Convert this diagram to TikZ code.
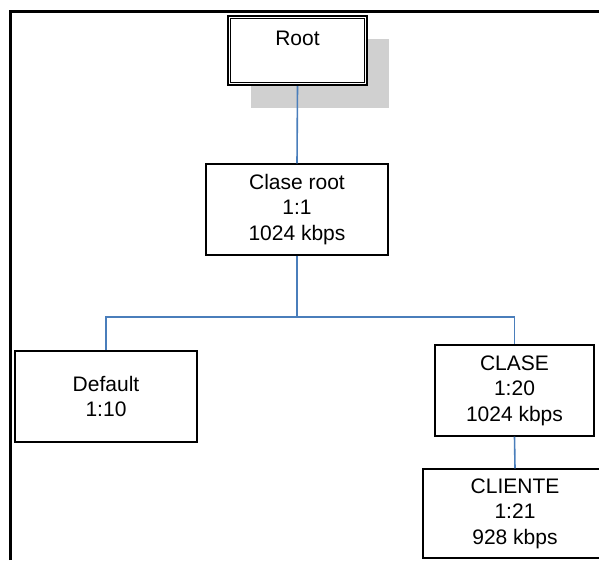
\documentclass[tikz,border=0pt]{standalone}
\usepackage{fontspec}
\setmainfont{Liberation Sans}
\definecolor{linkblue}{HTML}{4A7EBB}
\definecolor{shadowgray}{HTML}{D0D0D0}
\tikzset{
  treebox/.style={draw=black, line width=1.3pt, fill=white, inner sep=0pt,
    align=center, font=\fontsize{21}{25.5}\selectfont},
  link/.style={draw=linkblue, line width=1.6pt},
  frameline/.style={draw=black, line width=2.8pt}
}
\begin{document}
\begin{tikzpicture}[x=1pt, y=-1pt]
\useasboundingbox (0,0) rectangle (599,560);

% outer frame (left and top edges)
\draw[frameline] (10.3,560) -- (10.3,11.3) -- (599,11.3);

% shadow behind the root box
\fill[shadowgray] (251,39) rectangle (389,108);

% root box with a double border
\node[draw=black, line width=2.3pt, fill=white, minimum width=139pt, minimum height=69pt, inner sep=0pt] (root) at (297.5,50.5) {};
\draw[line width=1pt] ([xshift=4pt,yshift=-4pt]root.north west) rectangle ([xshift=-4pt,yshift=4pt]root.south east);
\node[font=\fontsize{21}{25.5}\selectfont, anchor=base] (roottext) at (297.5,45) {Root};

% class nodes
\node[treebox, minimum width=182pt, minimum height=91pt] (croot) at (297,209.5) {Clase root\\1:1\\1024 kbps};
\node[treebox, minimum width=182pt, minimum height=91pt] (default) at (106,396.5) {Default\\1:10};
\node[treebox, minimum width=159pt, minimum height=91pt] (clase) at (514.5,390.5) {CLASE\\1:20\\1024 kbps};
\node[treebox, minimum width=184pt, minimum height=89pt] (cliente) at (515,513.5) {CLIENTE\\1:21\\928 kbps};

% connectors
\draw[link] (root.south) -- (croot.north);
\coordinate (split) at (297,317);
\draw[link] (croot.south) -- (split);
\draw[link] (split) -| (default.north);
\draw[link] (split) -| (clase.north);
\draw[link] (clase.south) -- (cliente.north);
\end{tikzpicture}
\end{document}
